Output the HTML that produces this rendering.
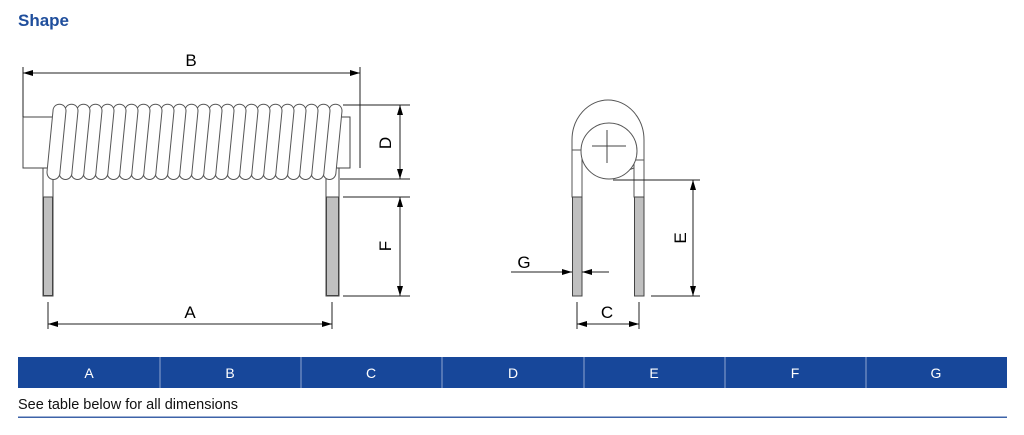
<!DOCTYPE html>
<html><head><meta charset="utf-8"><style>
html,body{margin:0;padding:0;background:#fff;width:1024px;height:435px;overflow:hidden}
svg{display:block}
</style></head><body>
<svg width="1024" height="435" viewBox="0 0 1024 435" xmlns="http://www.w3.org/2000/svg" font-family="Liberation Sans, DejaVu Sans, sans-serif">
<defs>
<marker id="ar" viewBox="0 0 10 6" refX="10" refY="3" markerWidth="10" markerHeight="6" orient="auto-start-reverse" markerUnits="userSpaceOnUse"><path d="M0,0 L10,3 L0,6 Z" fill="#000"/></marker>
<path id="turn" d="M0,111 C0,102 13,102 13,111 L7,172 C7,182 -6,182 -6,172 Z" fill="#fff" stroke="#555" stroke-width="1"/>
</defs>
<text x="18" y="26" font-size="17" font-weight="bold" fill="#1f4e9c">Shape</text>

<!-- left view -->
<g stroke="#444" stroke-width="1" fill="none">
<rect x="23" y="117" width="327" height="51" fill="#fff"/>
<rect x="43" y="168" width="10" height="128" fill="#fff"/>
<rect x="326" y="168" width="13" height="128" fill="#fff"/>
</g>
<rect x="43.5" y="197" width="9" height="98.5" fill="#c0c0c0" stroke="#444"/>
<rect x="326.5" y="197" width="12" height="98.5" fill="#c0c0c0" stroke="#444"/>
<g>
<use href="#turn" x="329"/><use href="#turn" x="317"/><use href="#turn" x="305"/><use href="#turn" x="293"/>
<use href="#turn" x="281"/><use href="#turn" x="269"/><use href="#turn" x="257"/><use href="#turn" x="245"/>
<use href="#turn" x="233"/><use href="#turn" x="221"/><use href="#turn" x="209"/><use href="#turn" x="197"/>
<use href="#turn" x="185"/><use href="#turn" x="173"/><use href="#turn" x="161"/><use href="#turn" x="149"/>
<use href="#turn" x="137"/><use href="#turn" x="125"/><use href="#turn" x="113"/><use href="#turn" x="101"/>
<use href="#turn" x="89"/><use href="#turn" x="77"/><use href="#turn" x="65"/><use href="#turn" x="53"/>
</g>
<g stroke="#222" stroke-width="1" fill="none">
<line x1="23" y1="67" x2="23" y2="117"/><line x1="360" y1="67" x2="360" y2="168"/>
<line x1="23" y1="73" x2="360" y2="73" marker-start="url(#ar)" marker-end="url(#ar)"/>
<line x1="343" y1="105" x2="410" y2="105"/><line x1="340" y1="179" x2="410" y2="179"/>
<line x1="400" y1="105" x2="400" y2="179" marker-start="url(#ar)" marker-end="url(#ar)"/>
<line x1="343" y1="197" x2="410" y2="197"/><line x1="343" y1="296" x2="410" y2="296"/>
<line x1="400" y1="197" x2="400" y2="296" marker-start="url(#ar)" marker-end="url(#ar)"/>
<line x1="48" y1="302" x2="48" y2="329"/><line x1="332" y1="302" x2="332" y2="329"/>
<line x1="48" y1="324" x2="332" y2="324" marker-start="url(#ar)" marker-end="url(#ar)"/>
</g>
<g font-size="17" fill="#000" text-anchor="middle">
<text x="191" y="66">B</text>
<text x="190" y="318">A</text>
<text transform="translate(391,143) rotate(-90)">D</text>
<text transform="translate(391,246) rotate(-90)">F</text>
<text transform="translate(686,238) rotate(-90)">E</text>
<text x="524" y="268">G</text>
<text x="607" y="318">C</text>
</g>

<!-- right view -->
<g stroke="#555" stroke-width="1" fill="#fff">
<path d="M572,197 L572,140 A36,40 0 0 1 644,140 L644,197"/>
<rect x="572" y="150" width="10" height="47"/>
<rect x="634" y="160" width="10" height="37"/>
<path d="M582,160 A36,22 0 0 0 634,168" fill="none"/>
<circle cx="609" cy="151" r="28"/>
</g>
<rect x="572.5" y="197" width="9.5" height="99" fill="#c0c0c0" stroke="#444"/>
<rect x="634.5" y="197" width="9.5" height="99" fill="#c0c0c0" stroke="#444"/>
<g stroke="#444" stroke-width="1">
<line x1="592" y1="146" x2="626" y2="146"/><line x1="607" y1="130" x2="607" y2="163"/>
</g>
<g stroke="#222" stroke-width="1" fill="none">
<line x1="613" y1="180" x2="700" y2="180"/><line x1="651" y1="296" x2="700" y2="296"/>
<line x1="693" y1="180" x2="693" y2="296" marker-start="url(#ar)" marker-end="url(#ar)"/>
<line x1="511" y1="272" x2="572" y2="272" marker-end="url(#ar)"/>
<line x1="609" y1="272" x2="582" y2="272" marker-end="url(#ar)"/>
<line x1="577" y1="302" x2="577" y2="329"/><line x1="639" y1="302" x2="639" y2="329"/>
<line x1="577" y1="324" x2="639" y2="324" marker-start="url(#ar)" marker-end="url(#ar)"/>
</g>

<!-- table -->
<rect x="18" y="357" width="989" height="31" fill="#17479a"/>
<g stroke="#8fa6d0" stroke-width="1">
<line x1="160" y1="357" x2="160" y2="388"/><line x1="301" y1="357" x2="301" y2="388"/>
<line x1="442" y1="357" x2="442" y2="388"/><line x1="584" y1="357" x2="584" y2="388"/>
<line x1="725" y1="357" x2="725" y2="388"/><line x1="866" y1="357" x2="866" y2="388"/>
</g>
<g font-size="14" fill="#fff" text-anchor="middle">
<text x="89" y="378">A</text><text x="230" y="378">B</text><text x="371" y="378">C</text>
<text x="513" y="378">D</text><text x="654" y="378">E</text><text x="795" y="378">F</text><text x="936" y="378">G</text>
</g>
<text x="18" y="409" font-size="14.5" fill="#111">See table below for all dimensions</text>
<rect x="18" y="416.5" width="989" height="1.5" fill="#3d63a8"/>
</svg>
</body></html>
